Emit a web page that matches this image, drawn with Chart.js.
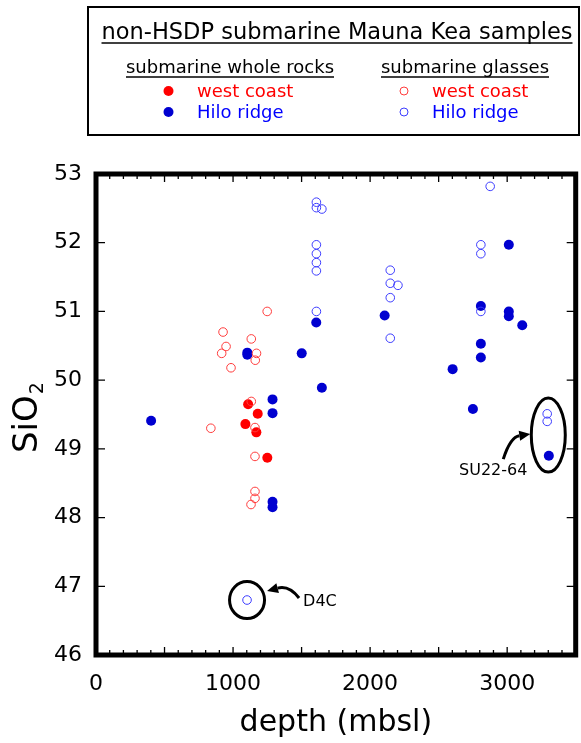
<!DOCTYPE html>
<html>
<head>
<meta charset="utf-8">
<script src="https://cdn.jsdelivr.net/npm/chart.js@4.4.1/dist/chart.umd.min.js"></script>
<style>
  body { margin: 0; background: #fff; }
  canvas { display: block; }
</style>
</head>
<body>
<canvas id="siChart" width="581" height="743"></canvas>
<script>
// [depth (mbsl), SiO2 wt%]
const wholeRockWest = [[1110, 49.65], [1180, 49.51], [1090, 49.36], [1170, 49.24], [1250, 48.87]];
const wholeRockHilo = [
  [402, 49.41], [1104, 50.40], [1104, 50.37], [1288, 49.72], [1288, 49.52], [1288, 48.23], [1288, 48.15],
  [1501, 50.39], [1607, 50.84], [1648, 49.89], [2106, 50.94], [2602, 50.16], [2750, 49.58],
  [2808, 51.08], [2808, 50.53], [2808, 50.33], [3012, 51.97], [3012, 51.00], [3012, 50.93],
  [3110, 50.80], [3304, 48.90]
];
const glassWest = [
  [838, 49.30], [985, 50.18], [927, 50.70], [949, 50.49], [917, 50.39], [1133, 50.60], [1171, 50.39],
  [1162, 50.29], [1249, 51.00], [1133, 49.69], [1160, 49.31], [1160, 48.89], [1160, 48.38],
  [1160, 48.28], [1131, 48.19]
];
const glassHilo = [
  [1608, 52.59], [1608, 52.51], [1648, 52.49], [1608, 51.97], [1608, 51.84], [1608, 51.71], [1608, 51.59],
  [1608, 51.00], [2147, 51.60], [2147, 51.41], [2203, 51.38], [2147, 51.20], [2147, 50.61],
  [2876, 52.82], [2808, 51.97], [2808, 51.84], [2808, 51.00], [3292, 49.51], [3292, 49.40], [1102, 46.80]
];

const xTickValues = [0, 1000, 2000, 3000];
const yTickValues = [46, 47, 48, 49, 50, 51, 52, 53];

// annotation anchors in data units
const d4cCircle = { x: 1102, y: 46.80 };
const d4cLabel = { x: 1634, y: 46.77, text: 'D4C' };
const suEllipse = { x: 3300, y: 49.20 };
const suLabel = { x: 2898, y: 48.68, text: 'SU22-64' };

const RED = '#ff0000', RED_OPEN = '#ff3c3c', BLUE = '#0000d0', BLUE_OPEN = '#3c3cff';
const FONT = '"DejaVu Sans", sans-serif';

function toPoints(arr) { return arr.map(p => ({ x: p[0], y: p[1] })); }

function drawArrow(ctx, x0, y0, cx, cy, x1, y1) {
  const ang = Math.atan2(y1 - cy, x1 - cx);
  const hl = 11, hw = 5;
  const bx = x1 - Math.cos(ang) * hl, by = y1 - Math.sin(ang) * hl;
  ctx.beginPath();
  ctx.moveTo(x0, y0);
  ctx.quadraticCurveTo(cx, cy, bx, by);
  ctx.lineWidth = 3;
  ctx.stroke();
  ctx.beginPath();
  ctx.moveTo(x1, y1);
  ctx.lineTo(bx - Math.sin(ang) * hw, by + Math.cos(ang) * hw);
  ctx.lineTo(bx + Math.sin(ang) * hw, by - Math.cos(ang) * hw);
  ctx.closePath();
  ctx.fill();
}

function underlinedText(ctx, text, cx, cy, size, ulY) {
  ctx.font = size + 'px ' + FONT;
  ctx.textAlign = 'center';
  ctx.textBaseline = 'middle';
  ctx.fillText(text, cx, cy);
  const w = ctx.measureText(text).width;
  ctx.beginPath();
  ctx.moveTo(cx - w / 2, ulY);
  ctx.lineTo(cx + w / 2, ulY);
  ctx.lineWidth = 1.5;
  ctx.stroke();
}

const decorPlugin = {
  id: 'decor',
  afterDraw(chart) {
    const ctx = chart.ctx;
    const { left, right, top, bottom } = chart.chartArea;
    const xs = chart.scales.x, ys = chart.scales.y;
    ctx.save();
    ctx.strokeStyle = '#000';
    ctx.fillStyle = '#000';

    // inward ticks
    ctx.lineWidth = 1.3;
    ctx.beginPath();
    yTickValues.forEach(v => {
      const py = ys.getPixelForValue(v);
      ctx.moveTo(left, py); ctx.lineTo(left + 9, py);
      ctx.moveTo(right, py); ctx.lineTo(right - 9, py);
    });
    for (let v = 0; v <= 3500; v += 100) {
      const px = xs.getPixelForValue(v);
      const len = v % 500 === 0 ? 8 : 5;
      ctx.moveTo(px, top); ctx.lineTo(px, top + len);
      ctx.moveTo(px, bottom); ctx.lineTo(px, bottom - len);
    }
    ctx.stroke();

    // heavy frame
    ctx.lineWidth = 5;
    ctx.lineJoin = 'miter';
    ctx.strokeRect(left, top, right - left, bottom - top);

    // axis titles
    ctx.textAlign = 'center';
    ctx.textBaseline = 'alphabetic';
    ctx.font = '30px ' + FONT;
    ctx.fillText('depth (mbsl)', (left + right) / 2, 731);

    ctx.save();
    ctx.translate(37, 453);
    ctx.rotate(-Math.PI / 2);
    ctx.textAlign = 'left';
    ctx.font = '34px ' + FONT;
    ctx.fillText('SiO', 0, 0);
    const sw = ctx.measureText('SiO').width;
    ctx.font = '19px ' + FONT;
    ctx.fillText('2', sw + 1, 6);
    ctx.restore();

    // D4C annotation
    const dx = xs.getPixelForValue(d4cCircle.x), dy = ys.getPixelForValue(d4cCircle.y);
    ctx.lineWidth = 3;
    ctx.beginPath();
    ctx.ellipse(dx, dy, 17.5, 18.5, 0, 0, Math.PI * 2);
    ctx.stroke();
    drawArrow(ctx, dx + 52, dy - 2, dx + 42, dy - 15, dx + 20, dy - 9);
    ctx.font = '16px ' + FONT;
    ctx.textBaseline = 'middle';
    ctx.fillText(d4cLabel.text, xs.getPixelForValue(d4cLabel.x), ys.getPixelForValue(d4cLabel.y));

    // SU22-64 annotation
    const ex = xs.getPixelForValue(suEllipse.x), ey = ys.getPixelForValue(suEllipse.y);
    ctx.lineWidth = 3;
    ctx.beginPath();
    ctx.ellipse(ex, ey, 17, 37, 0, 0, Math.PI * 2);
    ctx.stroke();
    drawArrow(ctx, ex - 45, ey + 24, ex - 38, ey + 2, ex - 18, ey - 1);
    ctx.fillText(suLabel.text, xs.getPixelForValue(suLabel.x), ys.getPixelForValue(suLabel.y));

    // legend box
    ctx.lineWidth = 2;
    ctx.strokeRect(88, 7, 491, 128);
    underlinedText(ctx, 'non-HSDP submarine Mauna Kea samples', 337, 33, 22.5, 43);
    underlinedText(ctx, 'submarine whole rocks', 230, 68, 18, 77);
    underlinedText(ctx, 'submarine glasses', 465, 68, 18, 77);

    const rows = [
      { mx: 168.5, tx: 197, y: 91, color: RED, fill: true, label: 'west coast', text: RED },
      { mx: 168.5, tx: 197, y: 112, color: BLUE, fill: true, label: 'Hilo ridge', text: '#0000ff' },
      { mx: 404, tx: 432, y: 91, color: RED_OPEN, fill: false, label: 'west coast', text: RED },
      { mx: 404, tx: 432, y: 112, color: BLUE_OPEN, fill: false, label: 'Hilo ridge', text: '#0000ff' }
    ];
    ctx.font = '18px ' + FONT;
    ctx.textAlign = 'left';
    ctx.textBaseline = 'middle';
    rows.forEach(r => {
      ctx.beginPath();
      if (r.fill) {
        ctx.arc(r.mx, r.y, 5, 0, Math.PI * 2);
        ctx.fillStyle = r.color;
        ctx.fill();
      } else {
        ctx.arc(r.mx, r.y, 4, 0, Math.PI * 2);
        ctx.strokeStyle = r.color;
        ctx.lineWidth = 1;
        ctx.stroke();
      }
      ctx.fillStyle = r.text;
      ctx.fillText(r.label, r.tx, r.y + 1);
    });
    ctx.restore();
  }
};

const ctx = document.getElementById('siChart').getContext('2d');
window.siChart = new Chart(ctx, {
  type: 'scatter',
  data: {
    datasets: [
      { label: 'glasses west coast', data: toPoints(glassWest), pointRadius: 4.3, pointBorderWidth: 1,
        borderColor: RED_OPEN, backgroundColor: 'rgba(0,0,0,0)' },
      { label: 'glasses Hilo ridge', data: toPoints(glassHilo), pointRadius: 4.3, pointBorderWidth: 1,
        borderColor: BLUE_OPEN, backgroundColor: 'rgba(0,0,0,0)' },
      { label: 'whole rocks west coast', data: toPoints(wholeRockWest), pointRadius: 5, pointBorderWidth: 0,
        borderColor: RED, backgroundColor: RED },
      { label: 'whole rocks Hilo ridge', data: toPoints(wholeRockHilo), pointRadius: 5, pointBorderWidth: 0,
        borderColor: BLUE, backgroundColor: BLUE }
    ]
  },
  options: {
    responsive: false,
    animation: false,
    events: [],
    layout: { padding: { top: 174, right: 3, left: 0, bottom: 0 } },
    plugins: { legend: { display: false }, tooltip: { enabled: false } },
    scales: {
      x: {
        type: 'linear', min: 0, max: 3500,
        grid: { display: false, drawTicks: false },
        border: { display: false },
        afterBuildTicks: s => { s.ticks = xTickValues.map(v => ({ value: v })); },
        afterFit: s => { s.height = 88; },
        ticks: { color: '#000', padding: 16, maxRotation: 0, font: { family: FONT, size: 22 },
          callback: v => String(v) }
      },
      y: {
        type: 'linear', min: 46, max: 53,
        grid: { display: false, drawTicks: false },
        border: { display: false },
        afterBuildTicks: s => { s.ticks = yTickValues.map(v => ({ value: v })); },
        afterFit: s => { s.width = 96; },
        ticks: { color: '#000', padding: 14, font: { family: FONT, size: 22 }, callback: v => String(v) }
      }
    }
  },
  plugins: [decorPlugin]
});
</script>
</body>
</html>
